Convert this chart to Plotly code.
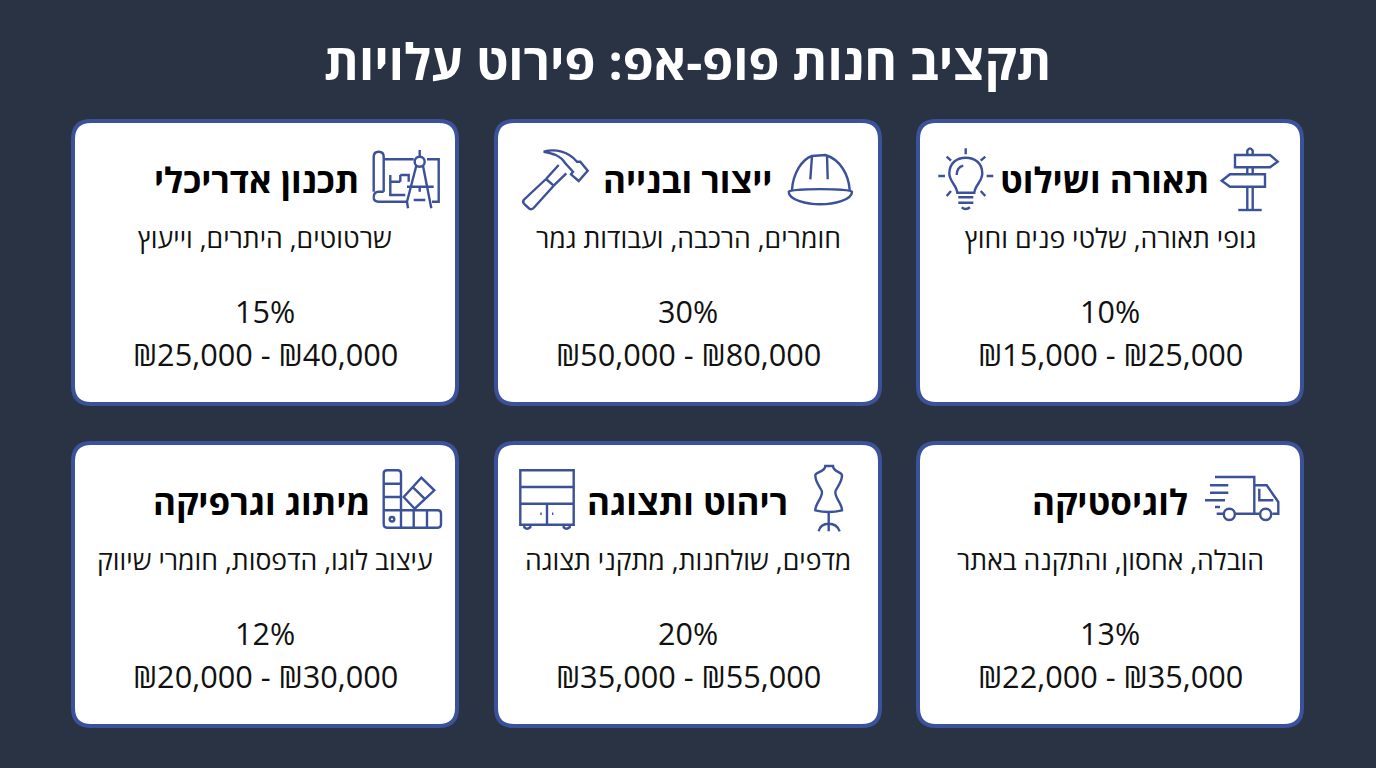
import re
import plotly.graph_objects as go

# card contents, reading order (right to left, top row first)
chart_title = "תקציב חנות פופ-אפ: פירוט עלויות"
categories = ["תאורה ושילוט", "ייצור ובנייה", "תכנון אדריכלי", "לוגיסטיקה", "ריהוט ותצוגה", "מיתוג וגרפיקה"]
details = [
    "גופי תאורה, שלטי פנים וחוץ",
    "חומרים, הרכבה, ועבודות גמר",
    "שרטוטים, היתרים, וייעוץ",
    "הובלה, אחסון, והתקנה באתר",
    "מדפים, שולחנות, מתקני תצוגה",
    "עיצוב לוגו, הדפסות, חומרי שיווק",
]
shares = [10, 30, 15, 13, 20, 12]
cost_low = [15000, 50000, 25000, 22000, 35000, 20000]
cost_high = [25000, 80000, 40000, 35000, 55000, 30000]

BG = "#2a3344"
BLUE = "#3b5199"
TEXT = "#111111"
FONT = "Open Sans"

card_left = [918, 496, 73, 918, 496, 73]
card_top = [121, 121, 121, 443, 443, 443]
icon_left = [920, 497, 72, 920, 497, 72]
card_w = 384
card_h = 283
head_center = [1104, 687, 256, 1110, 687, 261]

# icon outlines, drawn at 3x inside a box anchored on the card corner
icons = [
    # signpost + bulb
    ["M982 103 L982 92 Q990 78 998 92 L998 103", "M945 105 L1050 105 L1073 125 L1050 142 L945 142 Z",
     "M1035 163 L930 163 L905 182 L930 200 L1035 200 Z", "M982 142 L982 163 M998 142 L998 163",
     "M982 200 L982 268 M998 200 L998 268", "M955 270 L1025 270",
     "M112 218 C110 195 88 185 88 160 C88 130 110 113 137 113 C165 113 187 130 187 160 C187 185 165 195 163 218 Z",
     "M110 165 C110 150 118 140 130 137", "M115 232 L160 232 M115 248 L160 248 M125 262 Q137 272 150 262",
     "M137 85 L137 103 M80 110 L93 122 M196 110 L182 122 M55 168 L75 168 M200 168 L220 168 M80 228 L93 213 M196 228 L182 213"],
    # helmet + hammer
    ["M885 210 C888 160 915 118 945 108 L985 105 C1030 118 1055 165 1058 210",
     "M875 215 C875 205 1065 205 1065 215 C1065 240 1010 253 970 253 C930 253 875 240 875 215 Z",
     "M945 108 L940 178 M990 105 L992 178",
     "M140 95 C175 85 215 95 240 125 L250 125 L272 152 L245 183 L222 163 L228 155 L205 130 C190 105 165 100 140 95 Z",
     "M185 135 L147 177 M208 160 L170 197",
     "M147 177 L80 240 Q75 248 85 255 L98 267 Q105 270 112 262 L170 197 M147 177 L170 197"],
    # blueprint + compass
    ["M905 215 L905 110 Q905 95 920 95 Q935 95 935 110 L935 215", "M905 232 Q905 215 920 215 L935 215",
     "M920 245 Q905 245 905 232 M920 245 L1005 245 M935 118 L1025 118 M1065 118 L1100 118 L1100 245 L1080 245",
     "M955 165 L955 225 L1000 225 M955 185 L985 185 M985 165 L1010 165 L1010 185 M985 165 L985 185",
     "M1043 90 L1043 110 M1033 137 L1005 245 L1008 265 M1053 137 L1078 265",
     "M1005 200 L1085 200 M1043 200 L1043 215 M1025 240 L1060 240",
     "M1043 110 C1063 110 1063 140 1043 140 C1023 140 1023 110 1043 110 Z"],
    # truck
    ["M885 105 L1003 105 L1003 215 M890 215 L910 215 M945 215 L1018 215",
     "M1003 130 L1040 130 L1075 180 L1075 215 L1057 215", "M1018 140 L1018 175 L1060 175",
     "M928 200 C950 200 950 234 928 234 C906 234 906 200 928 200 Z",
     "M1037 200 C1059 200 1059 234 1037 234 C1015 234 1015 200 1037 200 Z",
     "M870 130 L925 130 M870 152 L925 152 M855 175 L915 175 M885 195 L900 195"],
    # dress form + cabinet
    ["M985 72 C985 90 955 90 955 100 C955 125 975 140 975 150 C975 170 955 185 955 205 Q995 215 1035 205 C1035 185 1015 170 1015 150 C1015 140 1035 125 1035 100 C1035 90 1008 90 1008 72 Z",
     "M995 212 L995 268 M965 268 Q970 245 995 245 Q1020 245 1028 268",
     "M70 85 L230 85 L230 248 L70 248 Z", "M70 135 L230 135 M70 185 L230 185 M150 185 L150 248",
     "M82 248 L82 256 Q90 264 100 256 L100 248 M200 248 L200 256 Q208 264 218 256 L218 248",
     "M130 215 L134 215 M165 215 L169 215"],
    # swatches
    ["M935 95 Q935 85 945 85 L977 85 Q987 85 987 95 L987 205 L1097 205 Q1107 205 1107 215 L1107 247 Q1107 257 1097 257 L945 257 Q935 257 935 247 Z",
     "M935 125 L987 125 M935 165 L987 165 M935 205 L987 205 M987 205 L987 257 M1025 205 L1025 257 M1065 205 L1065 257",
     "M953 232 C953 223 967 223 967 232 C967 241 953 241 953 232 Z",
     "M1048 107 L1087 145 L1028 200 L995 165 Z M1020 133 L1060 172"],
]


def icon_path(path, left, top):
    # shift a 3x zoomed outline onto the card
    nums = re.findall(r"-?\d+\.?\d*|[MLCQZ]", path)
    out = []
    is_x = True
    for tok in nums:
        if tok in "MLCQZ":
            out.append(tok)
        else:
            val = float(tok) / 3 + (left if is_x else top)
            out.append(f"{val:.1f}")
            is_x = not is_x
    return " ".join(out)


def round_rect(x0, y0, x1, y1, r):
    return (f"M{x0+r} {y0} L{x1-r} {y0} Q{x1} {y0} {x1} {y0+r} L{x1} {y1-r} Q{x1} {y1} {x1-r} {y1} "
            f"L{x0+r} {y1} Q{x0} {y1} {x0} {y1-r} L{x0} {y0+r} Q{x0} {y0} {x0+r} {y0} Z")


shapes = []
annotations = [dict(x=687, y=61, text=f"<b>{chart_title}</b>", showarrow=False,
                    font=dict(family=FONT, size=50, color="white"))]

for i, name in enumerate(categories):
    left, top = card_left[i], card_top[i]
    shapes.append(dict(type="path", path=round_rect(left, top, left + card_w, top + card_h, 18),
                       fillcolor="white", line=dict(color=BLUE, width=4), layer="below"))
    for p in icons[i]:
        shapes.append(dict(type="path", path=icon_path(p, icon_left[i], top - 1),
                           line=dict(color=BLUE, width=2.4)))
    mid = left + card_w / 2
    annotations += [
        dict(x=head_center[i], y=top + 58, text=f"<b>{name}</b>", showarrow=False,
             font=dict(family=FONT, size=35, color="black")),
        dict(x=mid, y=top + 117, text=details[i], showarrow=False,
             font=dict(family=FONT, size=26.6, color=TEXT)),
        dict(x=mid, y=top + 190, text=f"{shares[i]}%", showarrow=False,
             font=dict(family=FONT, size=30.5, color=TEXT)),
        dict(x=mid, y=top + 233, text=f"₪{cost_low[i]:,} - ₪{cost_high[i]:,}", showarrow=False,
             font=dict(family=FONT, size=30.7, color=TEXT)),
    ]

fig = go.Figure()
fig.update_layout(
    width=1376, height=768, margin=dict(l=0, r=0, t=0, b=0),
    paper_bgcolor=BG, plot_bgcolor=BG, showlegend=False,
    xaxis=dict(range=[0, 1376], visible=False, fixedrange=True),
    yaxis=dict(range=[768, 0], visible=False, fixedrange=True),
    shapes=shapes, annotations=annotations,
)
# the page's default body margin would push the figure 8px in
fig.write_html("out.html", config=dict(displayModeBar=False),
               post_script="document.body.style.margin='0';document.body.style.background='%s';" % BG)
